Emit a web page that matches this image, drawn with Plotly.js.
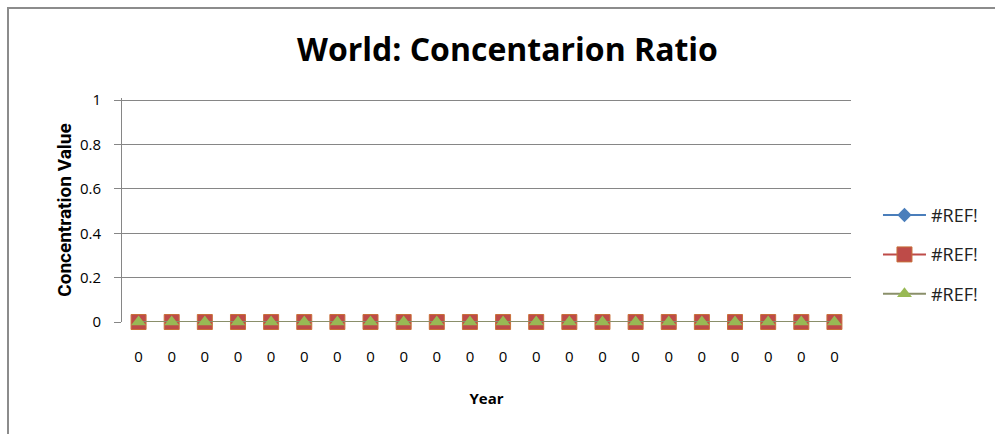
<!DOCTYPE html>
<html>
<head>
<meta charset="utf-8">
<script src="https://cdn.plot.ly/plotly-3.0.1.min.js"></script>
<style>
  html, body { margin: 0; padding: 0; background: #fff; overflow: hidden; }
  #wrap { position: relative; width: 995px; height: 434px; overflow: hidden; }
  #frame { position: absolute; left: 7px; top: 7px; width: 1100px; height: 600px; border: 2px solid #8c8c8c; box-sizing: border-box; pointer-events: none; }
  #chart { position: absolute; left: 0; top: 0; width: 995px; height: 434px; }
</style>
</head>
<body>
<div id="wrap">
  <div id="chart"></div>
  <div id="frame"></div>
</div>
<script>
// Data
const years = ["0","0","0","0","0","0","0","0","0","0","0","0","0","0","0","0","0","0","0","0","0","0"];
const seriesNames = ["#REF!", "#REF!", "#REF!"];
const series1 = [0,0,0,0,0,0,0,0,0,0,0,0,0,0,0,0,0,0,0,0,0,0];
const series2 = [0,0,0,0,0,0,0,0,0,0,0,0,0,0,0,0,0,0,0,0,0,0];
const series3 = [0,0,0,0,0,0,0,0,0,0,0,0,0,0,0,0,0,0,0,0,0,0];
const yTicks = [0, 0.2, 0.4, 0.6, 0.8, 1];

const idx = years.map((_, i) => i);
const font = "'Open Sans', 'Liberation Sans', sans-serif";
const boldFont = "'Open Sans', Roboto, sans-serif";

const styles = [
  {color: "#4A7EBB", symbol: "diamond", size: 11, lineColor: "#4A7EBB"},
  {color: "#BE4B48", symbol: "square", size: 15, lineColor: "#BE4B48"},
  {color: "#98B954", symbol: "triangle-up", size: 13, lineColor: "#8a8f6a"}
];
const data = [series1, series2, series3].map((ys, k) => ({
  x: idx, y: ys, name: seriesNames[k], type: "scatter", mode: "lines+markers",
  legendgroup: "g" + k,
  line: {color: styles[k].lineColor, width: 2},
  marker: {color: styles[k].color, symbol: styles[k].symbol, size: styles[k].size,
           line: {color: k === 1 ? "#c8703a" : styles[k].color, width: k === 1 ? 1 : 0}},
  cliponaxis: false
}));

const layout = {
  width: 995, height: 434,
  margin: {l: 122, r: 140, t: 98, b: 112},
  paper_bgcolor: "#ffffff", plot_bgcolor: "#ffffff",
  font: {family: font, color: "#000", size: 15},
  title: {text: "<b>World: Concentarion Ratio</b>", x: 0.51, xanchor: "center", xref: "container",
          y: 0.885, yanchor: "middle", yref: "container",
          font: {family: boldFont, size: 32, color: "#000"}},
  xaxis: {
    type: "linear", range: [-0.5, years.length - 0.5],
    tickmode: "array", tickvals: idx, ticktext: years,
    showgrid: false, zeroline: false, showline: false,
    ticks: "", ticklabelstandoff: 24,
    tickfont: {size: 15, color: "#000"},
    title: {text: "<b>Year</b>", standoff: 28, font: {family: boldFont, size: 15, color: "#000"}}
  },
  yaxis: {
    range: [0, 1.01], tickmode: "array", tickvals: yTicks,
    ticktext: yTicks.map(v => String(v)),
    showgrid: true, gridcolor: "#868686", gridwidth: 1,
    zeroline: false, showline: true, linecolor: "#868686", linewidth: 1,
    ticks: "outside", ticklen: 7, tickcolor: "#868686",
    ticklabelstandoff: 10,
    tickfont: {size: 15, color: "#000"},
    title: {text: "<b>Concentration Value</b>", standoff: 3,
            font: {family: "Roboto, sans-serif", size: 19, color: "#000"}}
  },
  showlegend: true,
  legend: {x: 1.037, xanchor: "left", y: 0.30, yanchor: "middle",
           itemwidth: 43, tracegroupgap: 13, traceorder: "grouped",
           font: {size: 18, color: "#222"}, bgcolor: "rgba(0,0,0,0)"}
};

Plotly.newPlot("chart", data, layout, {staticPlot: true, displayModeBar: false});
</script>
</body>
</html>
